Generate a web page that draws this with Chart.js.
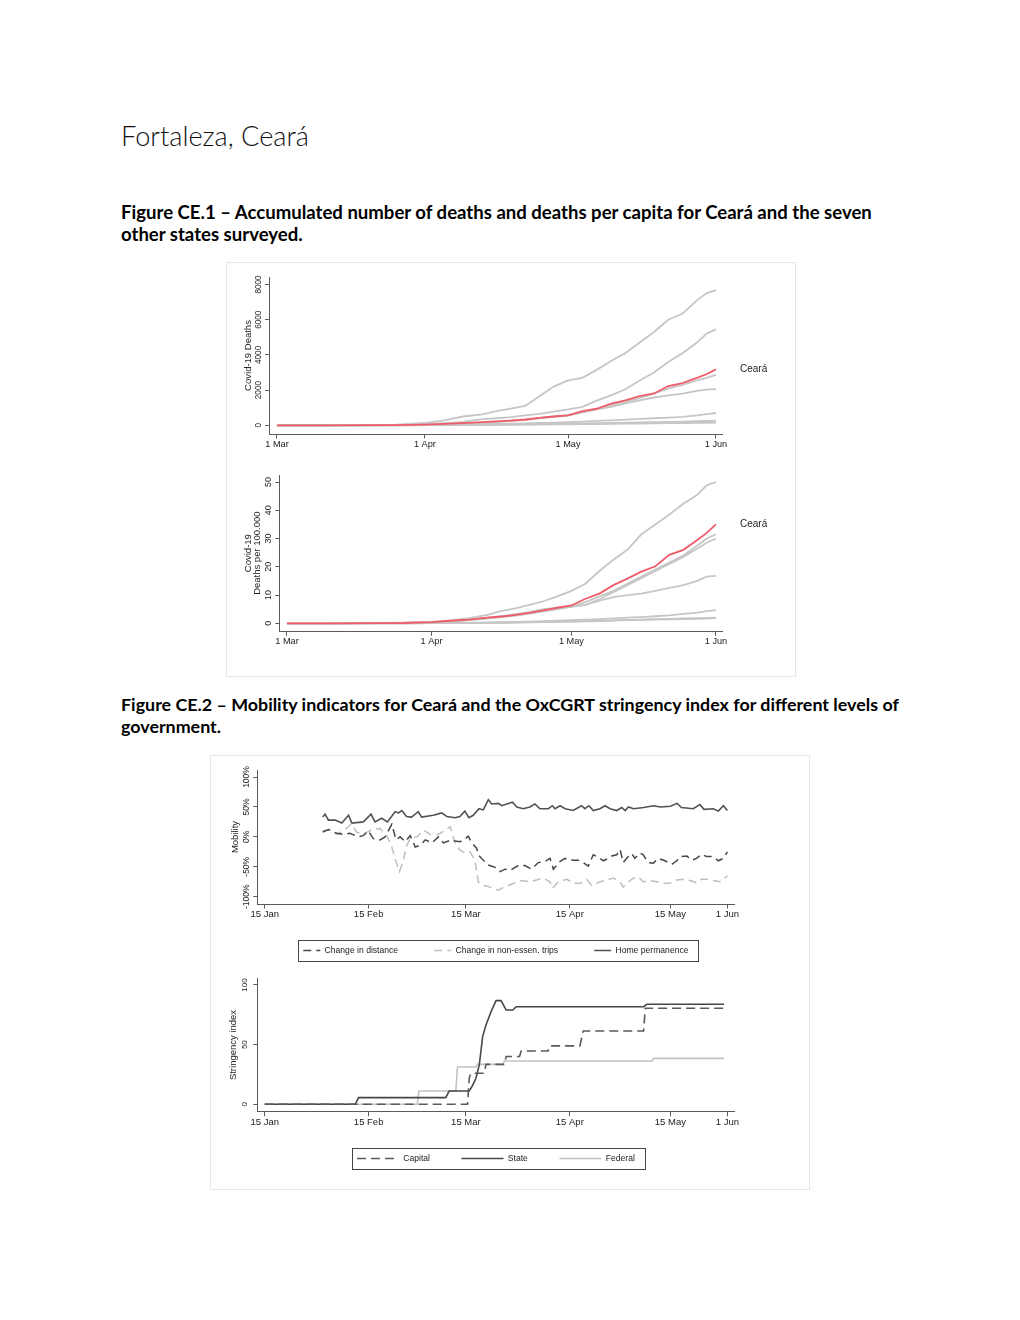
<!DOCTYPE html>
<html>
<head>
<meta charset="utf-8">
<script src="https://cdn.jsdelivr.net/npm/chart.js@4.4.0/dist/chart.umd.min.js"></script>
<style>
  html, body { margin: 0; padding: 0; background: #fff; }
  body { width: 1020px; height: 1320px; position: relative; overflow: hidden; font-family: Lato, "Open Sans", sans-serif; color: #000; }
  .txt { position: absolute; left: 121px; white-space: nowrap; }
  .title { font-weight: 300; font-size: 22px; line-height: 26px; top: 123px; color: #111; }
  .cap { font-weight: 700; font-size: 15.5px; line-height: 22px; }
  .fig { position: absolute; border: 1px solid #e3e7e9; box-sizing: border-box; }
  canvas { position: absolute; }
</style>
</head>
<body>
<div class="txt title"><span data-w="188">Fortaleza, Ceará</span></div>
<div class="txt cap" style="top:201px"><span data-w="751">Figure CE.1 – Accumulated number of deaths and deaths per capita for Ceará and the seven</span><br>other states surveyed.</div>
<div class="txt cap" style="top:693px"><span data-w="778">Figure CE.2 – Mobility indicators for Ceará and the OxCGRT stringency index for different levels of</span><br>government.</div>

<div class="fig" style="left:226px;top:262px;width:570px;height:415px"></div>
<div class="fig" style="left:210px;top:755px;width:600px;height:435px"></div>

<canvas id="deaths" width="570" height="200" style="left:226px;top:262px"></canvas>
<canvas id="perCapita" width="570" height="215" style="left:226px;top:462px"></canvas>
<canvas id="mobility" width="600" height="224" style="left:210px;top:755px"></canvas>
<canvas id="stringency" width="600" height="217" style="left:210px;top:965px"></canvas>

<script>
// ---- data: days since 1 Mar 2020 ----
const deathDays = [0, 10, 20, 25, 31, 35, 39, 43, 46, 49, 52, 55, 58, 61, 64, 67, 70, 73, 76, 79, 82, 85, 88, 90, 92];
const deathTickDays = [0, 31, 61, 92];
const deathTickLabels = ['1 Mar', '1 Apr', '1 May', '1 Jun'];

// accumulated deaths
const deathsCeara  = [0, 0, 5, 15, 40, 80, 120, 180, 220, 270, 330, 420, 500, 570, 810, 940, 1230, 1420, 1660, 1810, 2230, 2400, 2690, 2900, 3180];
const deathsOther1 = [0, 0, 10, 40, 130, 280, 500, 620, 800, 950, 1100, 1650, 2200, 2550, 2700, 3150, 3650, 4100, 4700, 5300, 6000, 6350, 7100, 7500, 7680];
const deathsOther2 = [0, 0, 0, 10, 60, 120, 200, 350, 400, 470, 560, 650, 780, 900, 1050, 1400, 1700, 2050, 2550, 3000, 3600, 4100, 4700, 5200, 5450];
const deathsOther3 = [0, 0, 5, 10, 30, 60, 100, 150, 200, 250, 300, 400, 480, 560, 780, 930, 1150, 1330, 1550, 1800, 2100, 2300, 2550, 2700, 2870];
const deathsOther4 = [0, 0, 5, 10, 30, 60, 100, 150, 200, 260, 320, 420, 500, 560, 720, 900, 1050, 1250, 1420, 1580, 1700, 1800, 1950, 2030, 2060];
const deathsOther5 = [0, 0, 0, 5, 20, 30, 45, 60, 75, 90, 110, 130, 150, 180, 210, 250, 285, 320, 360, 400, 440, 480, 560, 630, 700];
const deathsOther6 = [0, 0, 0, 2, 10, 15, 25, 30, 40, 50, 60, 70, 80, 90, 105, 120, 135, 150, 170, 185, 200, 210, 230, 245, 260];
const deathsOther7 = [0, 0, 0, 1, 5, 8, 12, 18, 25, 30, 35, 42, 50, 55, 65, 75, 82, 90, 100, 110, 120, 130, 140, 145, 150];

// deaths per 100.000
const rateCeara  = [0, 0, 0.05, 0.1, 0.4, 0.9, 1.3, 2, 2.4, 3, 3.7, 4.6, 5.5, 6.3, 8.7, 10.5, 13.5, 15.8, 18.3, 20.2, 24.2, 26, 29.5, 32, 35];
const rateOther1 = [0, 0, 0.1, 0.2, 0.5, 1.0, 1.8, 3, 4.4, 5.3, 6.5, 7.8, 9.5, 11.5, 14, 18.5, 22.5, 26, 31.5, 35, 38.5, 42.3, 45.5, 48.8, 50];
const rateOther2 = [0, 0, 0.05, 0.1, 0.3, 0.7, 1.2, 1.8, 2.3, 2.8, 3.5, 4.3, 5.2, 6, 7.5, 9.5, 11.5, 14, 16.5, 19, 21.5, 24, 27.5, 30, 31.5];
const rateOther3 = [0, 0, 0.05, 0.1, 0.3, 0.6, 1.1, 1.7, 2.2, 2.7, 3.4, 4.2, 5, 5.8, 6.5, 8.5, 11, 13.5, 16, 18.5, 21, 23.5, 26.5, 28.5, 30];
const rateOther4 = [0, 0, 0.05, 0.1, 0.3, 0.7, 1.3, 2, 2.5, 3.2, 4, 5, 5.5, 6, 6.5, 8, 9.3, 10, 10.5, 11.5, 12.5, 13.5, 15, 16.5, 16.8];
const rateOther5 = [0, 0, 0, 0, 0.1, 0.15, 0.2, 0.3, 0.4, 0.5, 0.6, 0.75, 0.9, 1.1, 1.3, 1.5, 1.75, 2, 2.2, 2.5, 2.8, 3.3, 3.8, 4.3, 4.7];
const rateOther6 = [0, 0, 0, 0, 0.05, 0.1, 0.1, 0.15, 0.2, 0.3, 0.4, 0.5, 0.6, 0.7, 0.8, 0.9, 1.05, 1.2, 1.3, 1.45, 1.55, 1.7, 1.8, 1.9, 2.0];
const rateOther7 = [0, 0, 0, 0, 0.05, 0.1, 0.1, 0.15, 0.2, 0.25, 0.35, 0.45, 0.5, 0.6, 0.7, 0.8, 0.95, 1.1, 1.2, 1.3, 1.4, 1.5, 1.6, 1.7, 1.8];

// ---- data: days since 15 Jan 2020 ----
const govTickDays = [0, 31, 60, 91, 121, 138];
const govTickLabels = ['15 Jan', '15 Feb', '15 Mar', '15 Apr', '15 May', '1 Jun'];

const distDays = [17.3, 19, 21.5, 23.5, 25.4, 27.9, 29.4, 30.9, 32.4, 34.4, 35.9, 37.9, 39.2, 40.4, 41.9, 43.4, 44.9, 46.4, 47.9, 49.9, 51.8, 53.3, 55.8,
  56.8, 58.2, 59.5, 60.7, 61.9, 63.2, 63.7, 65.2, 66.7, 68.7, 70.2, 71.7, 73.2, 75.6, 77.6, 79.6, 81.6, 83.6, 85.1, 86.1, 88.1, 89.6, 92, 93.5, 95, 96.5, 98,
  100, 101, 102.5, 103.5, 105, 106, 106.9, 108.4, 109.5, 110.4, 111.9, 112.9, 114.4, 115.9, 117.4, 119.4, 121.4, 122.9, 123.9, 125.9, 127.3, 128.8, 130.3, 131.8, 133.8, 135.3, 136.8, 138];
const distVals = [8, 12, 6, 4, 6, 0, 2, 10, -3, -5, 0, 21, -5, 0, -8, 2, -17, -14, -5, -10, 0, -10, -5,
  -7, -8, -5, 1, -11, -19, -30, -39, -47, -51, -58, -54, -56, -48, -48, -54, -43, -41, -36, -54, -41, -36, -39, -39, -43, -49, -30,
  -36, -40, -36, -32, -30, -21, -43, -33, -28, -36, -27, -30, -43, -44, -36, -40, -46, -40, -33, -32, -39, -36, -29, -33, -33, -40, -36, -25];

const tripDays = [17.3, 19.5, 21.5, 24, 25.9, 27.4, 29.4, 31.9, 34.4, 36.4, 37.9, 39.2, 40.2, 41.2, 42.4, 43.4, 45.4, 47.4, 49.4, 51.8, 53.8, 55.3,
  56.8, 58.2, 59.7, 61.2, 62.7, 63.7, 65.2, 66.7, 69.7, 71.7, 74.2, 76.6, 79.1, 81.1, 83.1, 85.1, 85.8, 87.6, 90.1, 92, 94, 96, 97.5,
  100, 102, 104, 106, 106.9, 107.9, 109.9, 111.4, 112.9, 114.9, 116.9, 118.9, 120.9, 122.9, 124.9, 126.9, 128.8, 130.3, 131.8, 133.8, 135.8, 138];
const tripVals = [10, 12, 4, 12, 22, 8, 4, 12, 14, 2, -17, -42, -58, -42, -14, -3, 0, 11, 4, 4, 11, 17,
  -11, -22, -27, -25, -39, -75, -81, -83, -89, -83, -78, -73, -75, -72, -69, -75, -86, -75, -71, -77, -78, -71, -81,
  -75, -72, -69, -75, -84, -78, -69, -67, -75, -73, -75, -78, -77, -72, -71, -73, -77, -71, -71, -73, -75, -65];

const homeDays = [17.3, 18, 19, 21, 23, 25, 26, 29.4, 31.7, 32.9, 34.9, 36.6, 38.9, 39.9, 40.9, 42.3, 43.8, 45.8, 46.8, 50.3, 52.8, 54.3,
  56.8, 58.2, 59.7, 60.9, 62.2, 63.9, 65.2, 66.7, 67.7, 69.7, 70.7, 72.2, 73.9, 75.2, 77.1, 79.1, 80.6, 82.1, 84.6, 85.8, 86.6, 88.1, 89.6, 92, 94.5, 95.5, 96.7, 98,
  100, 101.5, 103, 105, 106.5, 107.5, 108.5, 110, 113, 116, 118, 121, 123, 124.3, 127.8, 129.8, 131, 133.8, 135.3, 136.8, 138];
const homeVals = [33, 38, 28, 28, 23, 36, 23, 25, 38, 25, 31, 25, 42, 40, 44, 34, 33, 42, 33, 36, 40, 34,
  32, 34, 43, 32, 36, 47, 45, 62, 55, 56, 52, 55, 58, 50, 47, 50, 55, 47, 47, 52, 47, 52, 47, 44, 52, 47, 52, 44,
  47, 52, 47, 44, 49, 44, 50, 47, 49, 52, 50, 51, 56, 49, 47, 54, 46, 47, 43, 52, 44];

const capitalDays = [0, 60.5, 61, 61.5, 65.5, 66, 71.5, 72, 76, 76.5, 84.5, 85, 94, 95, 113, 113.5, 137];
const capitalVals = [0, 0, 22, 26, 26, 33.5, 33.5, 40, 40, 44.7, 44.7, 49, 49, 61.4, 61.4, 80.5, 80.5];
const stateDays = [0, 27, 28, 54, 55, 61, 62, 63, 64, 65, 66, 67.5, 69, 70.5, 72, 74, 75, 113, 114, 137];
const stateVals = [0, 0, 5.6, 5.6, 11.1, 11.1, 15.8, 21.8, 33, 56.7, 66.5, 77.6, 86.9, 86.9, 79, 79, 81.8, 81.8, 83.8, 83.8];
const federalDays = [0, 45.5, 46, 57, 57.5, 63, 63.5, 71, 71.5, 115.5, 116, 137];
const federalVals = [0, 0, 11.1, 11.1, 31.3, 31.3, 33.5, 33.5, 36.3, 36.3, 38.5, 38.5];

// ---- page text widths ----
document.querySelectorAll('[data-w]').forEach(el => {
  const box = el.closest('.txt');
  const fs = parseFloat(getComputedStyle(box).fontSize);
  const w = el.getBoundingClientRect().width;
  box.style.fontSize = (fs * (+el.dataset.w) / w).toFixed(2) + 'px';
});

// ---- chart helpers ----
const FAM = "'Liberation Sans', Arial, Helvetica, sans-serif";
const INK = '#222';
const AXIS = '#5a5a5a';
const GRAY = '#c6c6c6';
const RED = '#f05c6a';

const xy = (days, vals) => days.map((d, i) => ({ x: d, y: vals[i] }));

// rotated y labels are centred on the tick; padding puts their centre `dist` px from the axis
function yPad(labels, size, dist, tl) {
  const c = document.createElement('canvas').getContext('2d');
  c.font = size + 'px ' + FAM;
  const w = Math.max(...labels.map(t => c.measureText(t).width));
  return dist - tl - w / 2;
}

function xAxis(o) {
  return {
    type: 'linear', min: o.min, max: o.max,
    afterBuildTicks: s => { s.ticks = o.ticks.map(v => ({ value: v })); },
    afterFit: s => { s.height = o.h; },
    ticks: { autoSkip: false, minRotation: 0, maxRotation: 0, padding: 0, color: INK,
      font: { family: FAM, size: o.fs }, callback: (v, i) => o.labels[i] },
    grid: { drawOnChartArea: false, drawTicks: true, tickLength: 4.5, color: AXIS },
    border: { display: true, color: AXIS, width: 1 }
  };
}

function yAxis(o) {
  return {
    type: 'linear', min: o.min, max: o.max,
    afterBuildTicks: s => { s.ticks = o.ticks.map(v => ({ value: v })); },
    afterFit: s => { s.width = o.w; },
    ticks: { autoSkip: false, minRotation: 90, maxRotation: 90, crossAlign: 'center', color: INK,
      padding: yPad(o.labels, o.fs, o.dist, 4.5),
      font: { family: FAM, size: o.fs }, callback: (v, i) => o.labels[i] },
    grid: { drawOnChartArea: false, drawTicks: true, tickLength: 4.5, color: AXIS },
    border: { display: true, color: AXIS, width: 1 },
    title: { display: true, text: o.title, color: INK, font: { family: FAM, size: 9.5, lineHeight: 1 },
      padding: { top: o.titleX - 4.75, bottom: 0 } }
  };
}

const sideLabel = {
  id: 'sideLabel',
  afterDatasetsDraw(chart, args, opts) {
    const ds = chart.data.datasets[0];
    const y = chart.scales.y.getPixelForValue(ds.data[ds.data.length - 1].y);
    const ctx = chart.ctx;
    ctx.save();
    ctx.font = opts.size + 'px ' + FAM;
    ctx.fillStyle = INK;
    ctx.textBaseline = 'middle';
    ctx.fillText(opts.text, chart.chartArea.right + opts.gap, y);
    ctx.restore();
  }
};

// moves the legend box up after layout, so the axis keeps room for its labels
const legendShift = {
  id: 'legendShift',
  afterLayout(chart, args, opts) {
    chart.legend.top += opts.dy;
    chart.legend.bottom += opts.dy;
  }
};

const legendFrame = {
  id: 'legendFrame',
  afterDraw(chart) {
    const hb = chart.legend.legendHitBoxes;
    const left = Math.min(...hb.map(h => h.left)) - 5;
    const right = Math.max(...hb.map(h => h.left + h.width)) + 10;
    const cy = hb[0].top + hb[0].height / 2;
    const ctx = chart.ctx;
    ctx.save();
    ctx.strokeStyle = '#444';
    ctx.lineWidth = 1;
    ctx.strokeRect(Math.round(left) + 0.5, Math.round(cy - 10.5) + 0.5, Math.round(right - left), 21);
    ctx.restore();
  }
};

const base = (pad) => ({
  responsive: false, animation: false, events: [],
  layout: { padding: pad, autoPadding: false },
  elements: { point: { radius: 0 }, line: { tension: 0, borderWidth: 1.5 } }
});

function grayLine(data) {
  return { data, borderColor: GRAY, borderWidth: 1.8 };
}

// ---- Figure CE.1, deaths ----
new Chart(document.getElementById('deaths'), {
  type: 'line',
  data: {
    datasets: [
      { label: 'Ceará', data: xy(deathDays, deathsCeara), borderColor: RED, borderWidth: 1.8 },
      ...[deathsOther1, deathsOther2, deathsOther3, deathsOther4, deathsOther5, deathsOther6, deathsOther7]
        .map(v => grayLine(xy(deathDays, v)))
    ]
  },
  options: {
    ...base({ left: 0, top: 15, right: 74, bottom: 0 }),
    scales: {
      x: xAxis({ min: -1.55, max: 93.26, ticks: deathTickDays, labels: deathTickLabels, h: 28, fs: 9.2 }),
      y: yAxis({ min: -494, max: 8426, ticks: [0, 2000, 4000, 6000, 8000], labels: ['0', '2000', '4000', '6000', '8000'],
        w: 43.6, fs: 8.2, dist: 10.9, title: 'Covid-19 Deaths', titleX: 22 })
    },
    plugins: { legend: { display: false }, tooltip: { enabled: false }, sideLabel: { text: 'Ceará', gap: 18, size: 10 } }
  },
  plugins: [sideLabel]
});

// ---- Figure CE.1, deaths per 100.000 ----
new Chart(document.getElementById('perCapita'), {
  type: 'line',
  data: {
    datasets: [
      { label: 'Ceará', data: xy(deathDays, rateCeara), borderColor: RED, borderWidth: 1.8 },
      ...[rateOther1, rateOther2, rateOther3, rateOther4, rateOther5, rateOther6, rateOther7]
        .map(v => grayLine(xy(deathDays, v)))
    ]
  },
  options: {
    ...base({ left: 0, top: 13, right: 74, bottom: 0 }),
    scales: {
      x: xAxis({ min: -1.54, max: 93.29, ticks: deathTickDays, labels: deathTickLabels, h: 45.7, fs: 9.2 }),
      y: yAxis({ min: -2.83, max: 52.48, ticks: [0, 10, 20, 30, 40, 50], labels: ['0', '10', '20', '30', '40', '50'],
        w: 53.8, fs: 9, dist: 11.3, title: ['Covid-19', 'Deaths per 100.000'], titleX: 22 })
    },
    plugins: { legend: { display: false }, tooltip: { enabled: false }, sideLabel: { text: 'Ceará', gap: 18, size: 10 } }
  },
  plugins: [sideLabel]
});

// legend symbols follow each dataset's own line style
const legendOpts = (w, pad) => ({
  display: true, position: 'bottom', fullSize: false, align: 'center',
  labels: { usePointStyle: true, pointStyle: 'line', pointStyleWidth: w, padding: pad, color: INK,
    font: { family: FAM, size: 8.6 },
    generateLabels: chart => Chart.defaults.plugins.legend.labels.generateLabels(chart).map((item, i) => {
      const ds = chart.data.datasets[i];
      return { ...item, strokeStyle: ds.borderColor, lineWidth: ds.borderWidth, lineDash: ds.borderDash || [] };
    }) }
});

// ---- Figure CE.2, mobility ----
new Chart(document.getElementById('mobility'), {
  type: 'line',
  data: {
    datasets: [
      { label: 'Change in distance', data: xy(distDays, distVals), borderColor: '#474747', borderWidth: 1.5, borderDash: [8, 5] },
      { label: 'Change in non-essen. trips', data: xy(tripDays, tripVals), borderColor: '#bfbfbf', borderWidth: 1.5, borderDash: [8, 5] },
      { label: 'Home permanence', data: xy(homeDays, homeVals), borderColor: '#525252', borderWidth: 1.6 }
    ]
  },
  options: {
    ...base({ left: 0, top: 15, right: 76, bottom: 0.4 }),
    scales: {
      x: xAxis({ min: -2.06, max: 139.97, ticks: govTickDays, labels: govTickLabels, h: 20, fs: 9.5 }),
      y: yAxis({ min: -112.2, max: 111.7, ticks: [-100, -50, 0, 50, 100], labels: ['-100%', '-50%', '0%', '50%', '100%'],
        w: 47.8, fs: 8.5, dist: 10.7, title: 'Mobility', titleX: 24.9 })
    },
    plugins: { legend: legendOpts(17, 36), legendShift: { dy: -13.8 }, tooltip: { enabled: false } }
  },
  plugins: [legendShift, legendFrame]
});

// ---- Figure CE.2, stringency ----
new Chart(document.getElementById('stringency'), {
  type: 'line',
  data: {
    datasets: [
      { label: 'Capital', data: xy(capitalDays, capitalVals), borderColor: '#5a5a5a', borderWidth: 1.6, borderDash: [9, 5] },
      { label: 'State', data: xy(stateDays, stateVals), borderColor: '#474747', borderWidth: 1.6 },
      { label: 'Federal', data: xy(federalDays, federalVals), borderColor: '#c2c2c2', borderWidth: 1.6 }
    ]
  },
  options: {
    ...base({ left: 0, top: 13.3, right: 76, bottom: 0.2 }),
    scales: {
      x: xAxis({ min: -2.06, max: 139.97, ticks: govTickDays, labels: govTickLabels, h: 20, fs: 9.5 }),
      y: yAxis({ min: -6.2, max: 105.6, ticks: [0, 50, 100], labels: ['0', '50', '100'],
        w: 47.8, fs: 8, dist: 13.4, title: 'Stringency index', titleX: 23.7 })
    },
    plugins: { legend: legendOpts(42, 31.5), legendShift: { dy: -9 }, tooltip: { enabled: false } }
  },
  plugins: [legendShift, legendFrame]
});
</script>
</body>
</html>
